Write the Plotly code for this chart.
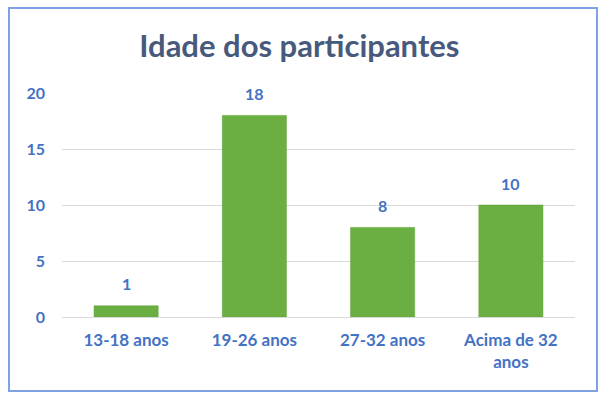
import plotly.graph_objects as go

categories = ["13-18 anos", "19-26 anos", "27-32 anos", "Acima de 32<br>anos"]
values = [1, 18, 8, 10]
y_ticks = [0, 5, 10, 15, 20]
title_text = "Idade dos participantes"

BLUE = "#4472C4"
FONT = "Lato, 'Open Sans', sans-serif"

fig = go.Figure()
fig.add_trace(go.Bar(
    x=categories, y=values,
    marker=dict(color="#6BAF42", line=dict(color="#5E9E38", width=0.5)),
    width=0.5,
    hoverinfo="x+y",
))

for c, v in zip(categories, values):
    fig.add_annotation(x=c, y=v, text=f"<b>{v}</b>", showarrow=False,
                       yshift=22, font=dict(family=FONT, size=16, color=BLUE))

fig.update_layout(
    width=611, height=398,
    margin=dict(l=62, r=36, t=93, b=81),
    paper_bgcolor="white", plot_bgcolor="white",
    showlegend=False,
    title=dict(text=f"<b>{title_text}</b>", x=0.49, xanchor="center",
               y=0.883, yanchor="middle",
               font=dict(family=FONT, size=31, color="#475A7C")),
    xaxis=dict(showgrid=False, showline=False, ticks="",
               tickfont=dict(family=FONT, size=17, color=BLUE, weight="bold"),
               ticklabelstandoff=11),
    yaxis=dict(range=[0, 20], tickvals=y_ticks, showgrid=True,
               gridcolor="#D9D9D9", gridwidth=1.2, zeroline=True,
               zerolinecolor="#D9D9D9", zerolinewidth=1.2,
               showline=False, ticks="",
               tickfont=dict(family=FONT, size=16, color=BLUE, weight="bold"),
               ticklabelstandoff=16),
    bargap=0.5,
)

# chart border
fig.add_shape(type="rect", xref="paper", yref="paper",
              x0=(9 - 62) / 513, x1=(597 - 62) / 513,
              y0=(317 - 391) / 224, y1=(317 - 8) / 224,
              line=dict(color="#7FA2E4", width=2), fillcolor="rgba(0,0,0,0)",
              layer="below")

fig.write_html("out.html", config={"displayModeBar": False},
               post_script="document.body.style.margin='0';document.body.style.overflow='hidden';")
